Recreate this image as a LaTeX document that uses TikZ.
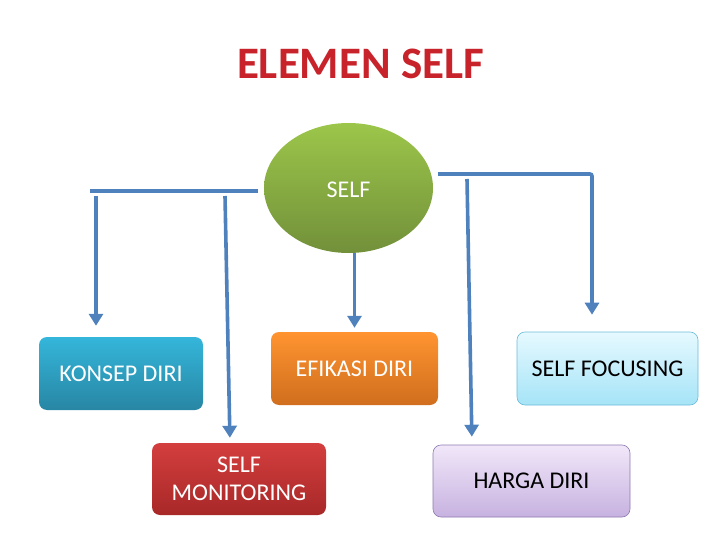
\documentclass[tikz,border=0pt]{standalone}
\usepackage{fontspec}
\setmainfont{Carlito}
\usetikzlibrary{arrows.meta,shapes.geometric}
\definecolor{connblue}{HTML}{4F81BD}
\definecolor{titlered}{HTML}{C8232A}
\begin{document}
\begin{tikzpicture}[x=1pt,y=-1pt,
  conn/.style={draw=connblue,line width=3.6pt},
  arr/.style={conn,-{Triangle[width=14pt,length=12pt]}},
  box/.style={rounded corners=8pt, align=center, inner sep=0pt,
    font=\fontsize{24}{28}\selectfont},
  darkbox/.style={box, text=white},
  lightbox/.style={box, text=black, line width=0.6pt},
]
\useasboundingbox (0,0) rectangle (720,540);

\node[font=\fontsize{45}{50}\bfseries, text=titlered, inner sep=0pt] (title) at (360.5,64) {ELEMEN SELF};

\node[ellipse, minimum width=169pt, minimum height=130pt, inner sep=0pt,
  top color={rgb,255:red,156;green,198;blue,74}, bottom color={rgb,255:red,114;green,144;blue,58}] (self) at (348.5,188) {};
\node[text=white, font=\fontsize{24}{28}\selectfont, inner sep=0pt] (selftext) at (348.5,190) {SELF};

\node[darkbox, minimum width=164pt, minimum height=73pt,
  top color={rgb,255:red,52;green,182;blue,218}, bottom color={rgb,255:red,40;green,134;blue,164}] (konsep) at (121,373.5) {KONSEP DIRI};

\node[darkbox, minimum width=167pt, minimum height=73pt,
  top color={rgb,255:red,255;green,148;blue,48}, bottom color={rgb,255:red,208;green,110;blue,30}] (efik) at (354.5,368.5) {EFIKASI DIRI};

\node[darkbox, minimum width=174pt, minimum height=72pt,
  top color={rgb,255:red,212;green,62;blue,62}, bottom color={rgb,255:red,168;green,40;blue,40}] (mon) at (239,479) {SELF\\MONITORING};

\node[lightbox, minimum width=181pt, minimum height=73pt, draw={rgb,255:red,108;green,186;blue,214},
  top color={rgb,255:red,230;green,249;blue,255}, bottom color={rgb,255:red,165;green,228;blue,247}] (focus) at (607.5,368.5) {SELF FOCUSING};

\node[lightbox, minimum width=197pt, minimum height=72pt, draw={rgb,255:red,142;green,122;blue,176},
  top color={rgb,255:red,241;green,231;blue,249}, bottom color={rgb,255:red,199;green,178;blue,224}] (harga) at (531.5,481) {HARGA DIRI};

% left branch
\coordinate (l1) at (90,191);
\coordinate (l2) at (258,191);
\draw[conn] (l1) -- (l2);
\coordinate (a1) at (96,196);
\draw[arr, shorten >=11pt] (a1) -- (a1 |- konsep.north);
\coordinate (a2) at (225,196);
\coordinate (a2e) at (230,0);
\draw[arr, shorten >=5pt] (a2) -- (a2e |- mon.north);

% centre
\draw[arr, shorten >=4pt] (efik.north |- self.south) -- (efik.north);

% right branch
\coordinate (r1) at (438,174);
\coordinate (r2) at (592,174);
\draw[arr, rounded corners=2pt, shorten >=17pt] (r1) -- (r2) -- (r2 |- focus.north);
\coordinate (b1) at (467,179);
\coordinate (b1e) at (472,0);
\draw[arr, shorten >=8pt] (b1) -- (b1e |- harga.north);
\end{tikzpicture}
\end{document}
